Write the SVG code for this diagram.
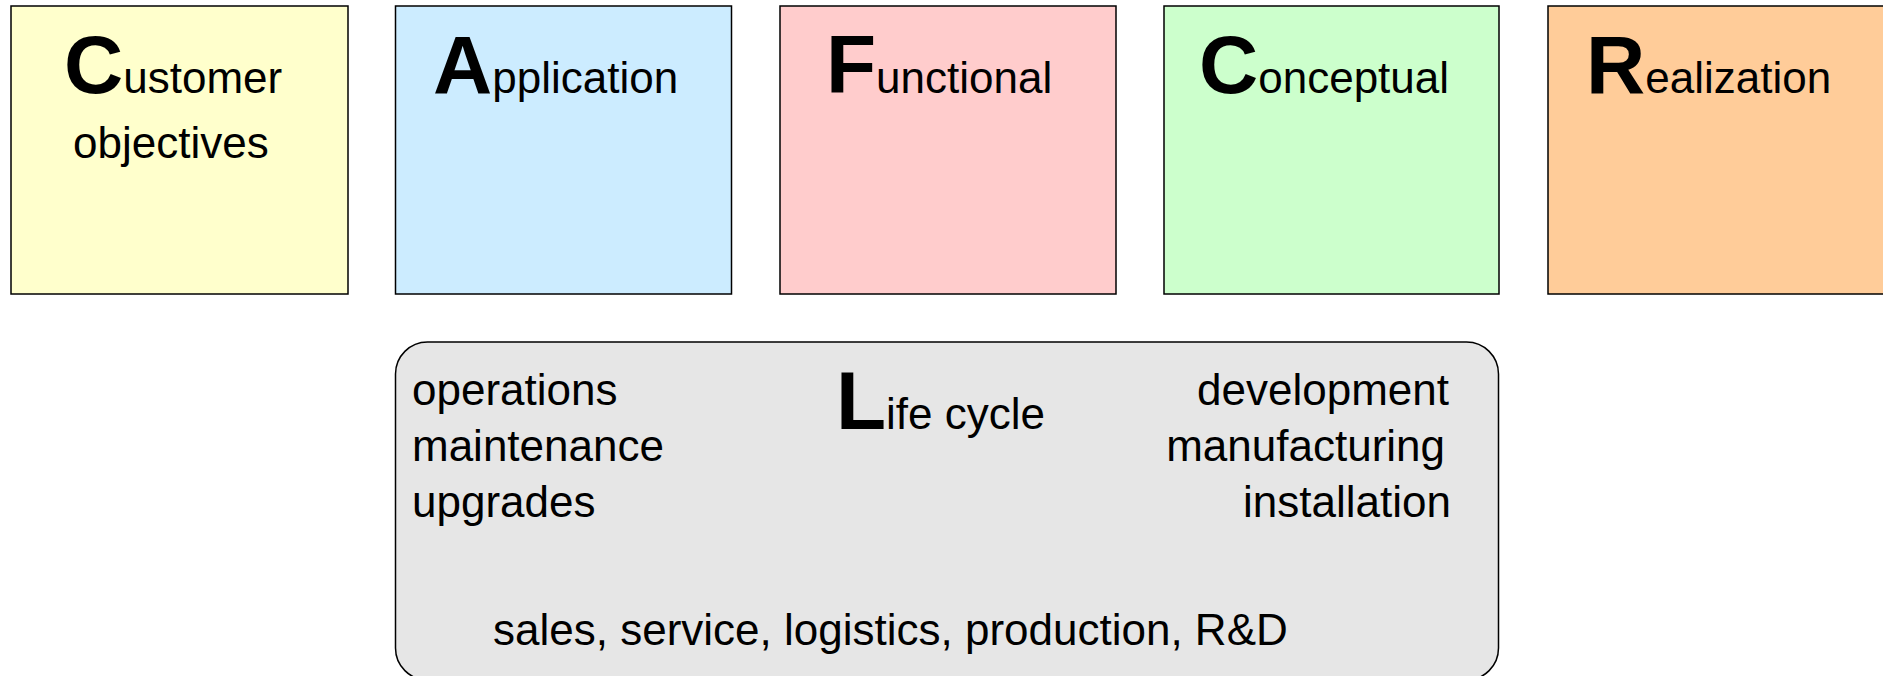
<svg xmlns="http://www.w3.org/2000/svg" width="1883" height="676" viewBox="0 0 1883 676">
<style>
.box{stroke:#000;stroke-width:1.5}
.t{font-family:"Liberation Sans",Arial,sans-serif;font-size:44px;fill:#000}
.big{font-weight:bold;font-size:82px}
.sm{font-weight:normal;font-size:44px}
.end{text-anchor:end}
</style>
<rect x="0" y="0" width="1883" height="676" fill="#fff"/>
<g id="customer">
<rect class="box" x="11" y="6" width="337" height="288" fill="#FFFFCC"/>
<text class="t" x="64" y="93"><tspan class="big">C</tspan><tspan class="sm">ustomer</tspan></text>
<text class="t" x="73" y="158">objectives</text>
</g>
<g id="application">
<rect class="box" x="395.5" y="6" width="336" height="288" fill="#CCECFF"/>
<text class="t" x="433" y="93"><tspan class="big">A</tspan><tspan class="sm">pplication</tspan></text>
</g>
<g id="functional">
<rect class="box" x="780" y="6" width="336" height="288" fill="#FFCCCC"/>
<text class="t" x="826" y="93"><tspan class="big">F</tspan><tspan class="sm">unctional</tspan></text>
</g>
<g id="conceptual">
<rect class="box" x="1164" y="6" width="335" height="288" fill="#CCFFCC"/>
<text class="t" x="1199" y="93"><tspan class="big">C</tspan><tspan class="sm">onceptual</tspan></text>
</g>
<g id="realization">
<rect class="box" x="1548" y="6" width="340" height="288" fill="#FFCC99"/>
<text class="t" x="1586" y="93"><tspan class="big">R</tspan><tspan class="sm">ealization</tspan></text>
</g>
<g id="lifecycle">
<rect class="box" x="395.5" y="342" width="1103" height="338" rx="32" ry="32" fill="#E6E6E6"/>
<text class="t" x="836" y="429"><tspan class="big">L</tspan><tspan class="sm">ife cycle</tspan></text>
<text class="t" x="412" y="405">operations</text>
<text class="t" x="412" y="461">maintenance</text>
<text class="t" x="412" y="517">upgrades</text>
<text class="t end" x="1449" y="405">development</text>
<text class="t end" x="1445" y="461">manufacturing</text>
<text class="t end" x="1451" y="517">installation</text>
<text class="t" x="493" y="645">sales, service, logistics, production, R&amp;D</text>
</g>
<g id="connectors"></g>
</svg>
